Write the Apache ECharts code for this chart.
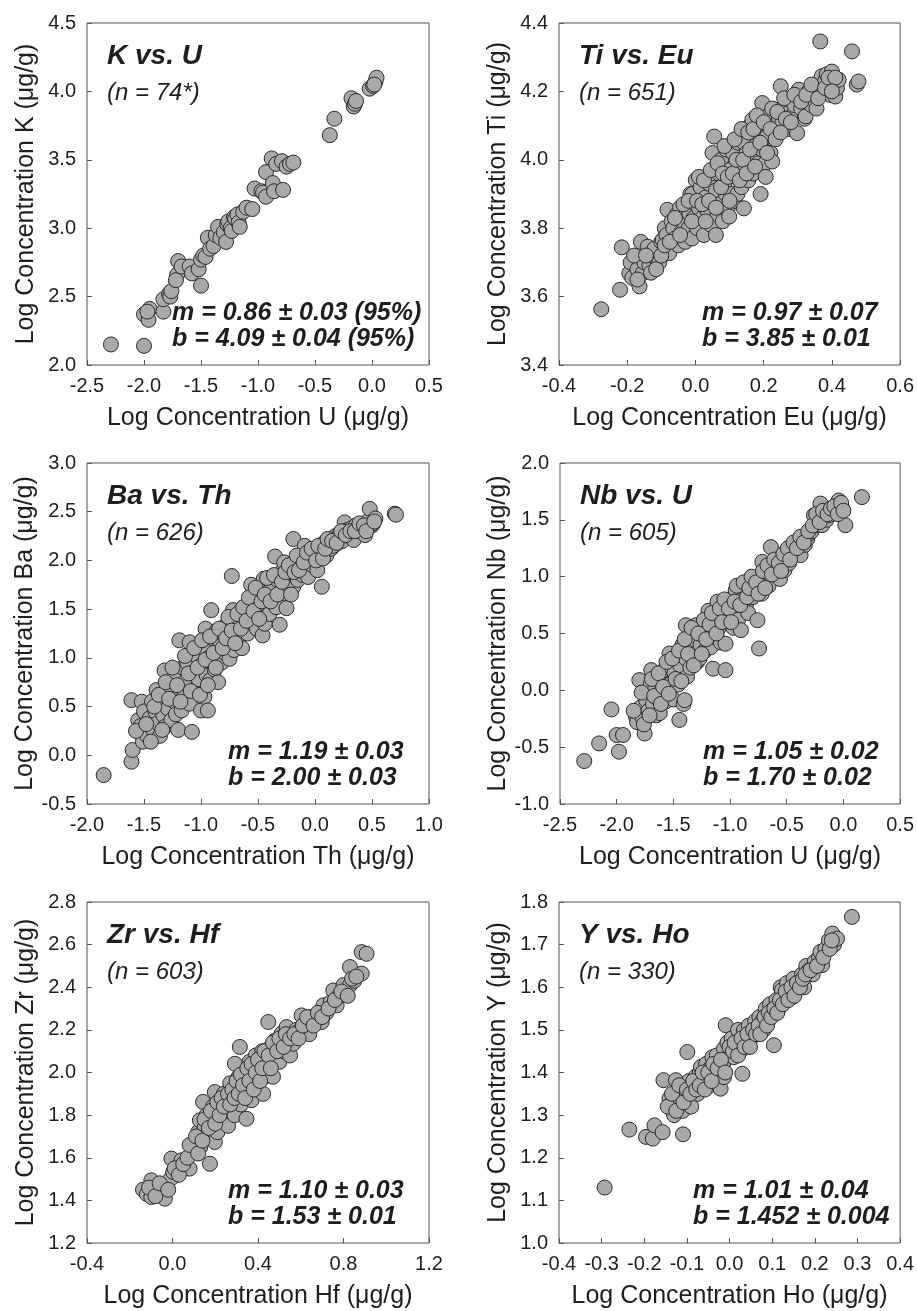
<!DOCTYPE html>
<html><head><meta charset="utf-8">
<script src="https://cdn.jsdelivr.net/npm/echarts@6/dist/echarts.min.js"></script>
<style>html,body{margin:0;padding:0;background:#fff}#c{width:917px;height:1311px}</style>
</head><body><div id="c"></div>
<script>
// ---------- DATA ----------
const kVsU = [[-2.29,2.15],[-2.00,2.14],[-2.00,2.37],[-1.96,2.33],[-1.95,2.41],[-1.97,2.39],[-1.83,2.39],[-1.83,2.48],[-1.78,2.52],[-1.77,2.50],[-1.76,2.54],[-1.70,2.76],[-1.71,2.66],[-1.72,2.62],[-1.67,2.72],[-1.60,2.72],[-1.58,2.67],[-1.52,2.70],[-1.50,2.58],[-1.50,2.77],[-1.48,2.80],[-1.46,2.79],[-1.44,2.93],[-1.42,2.85],[-1.39,2.87],[-1.37,2.95],[-1.35,3.01],[-1.33,2.93],[-1.30,2.97],[-1.28,2.90],[-1.27,3.03],[-1.26,3.05],[-1.24,3.00],[-1.23,2.98],[-1.21,3.08],[-1.20,3.07],[-1.18,3.10],[-1.17,3.04],[-1.16,3.01],[-1.13,3.12],[-1.10,3.15],[-1.05,3.14],[-1.03,3.29],[-0.97,3.27],[-0.955,3.26],[-0.93,3.23],[-0.93,3.41],[-0.88,3.51],[-0.87,3.33],[-0.86,3.27],[-0.84,3.47],[-0.79,3.49],[-0.78,3.28],[-0.75,3.45],[-0.72,3.47],[-0.69,3.48],[-0.37,3.68],[-0.33,3.80],[-0.18,3.95],[-0.16,3.89],[-0.15,3.91],[-0.14,3.93],[-0.02,4.02],[0.01,4.04],[0.03,4.07],[0.04,4.10],[0.02,4.05]];

const tiVsEu = [[-0.276,3.563],[-0.221,3.62],[-0.216,3.744],[-0.194,3.668],[-0.19,3.70],[-0.185,3.655],[-0.17,3.68],[-0.164,3.63],[-0.16,3.76],[-0.155,3.668],[-0.15,3.70],[-0.14,3.746],[-0.135,3.69],[-0.13,3.67],[-0.125,3.72],[-0.12,3.74],[-0.11,3.70],[-0.106,3.70],[-0.10,3.76],[-0.096,3.766],[-0.09,3.80],[-0.085,3.78],[-0.082,3.854],[-0.08,3.74],[-0.077,3.727],[-0.07,3.82],[-0.065,3.80],[-0.06,3.77],[-0.055,3.84],[-0.05,3.75],[-0.048,3.834],[-0.045,3.86],[-0.04,3.79],[-0.035,3.82],[-0.03,3.76],[-0.025,3.85],[-0.02,3.80],[-0.018,3.844],[-0.015,3.90],[-0.01,3.77],[-0.009,3.90],[-0.005,3.83],[0.0,3.87],[0.001,3.941],[0.005,3.80],[0.01,3.86],[0.015,3.92],[0.02,3.83],[0.025,3.78],[0.03,3.89],[0.035,3.85],[0.04,3.93],[0.045,3.81],[0.05,4.02],[0.05,3.88],[0.055,4.068],[0.055,3.96],[0.06,3.78],[0.06,3.91],[0.065,3.84],[0.069,3.96],[0.07,3.87],[0.075,4.00],[0.08,3.82],[0.085,3.93],[0.089,3.90],[0.09,4.03],[0.095,3.86],[0.099,3.834],[0.10,3.97],[0.105,3.90],[0.11,4.02],[0.115,3.88],[0.12,3.95],[0.123,3.90],[0.125,4.05],[0.13,3.99],[0.135,3.92],[0.14,4.07],[0.142,3.858],[0.142,4.05],[0.145,3.98],[0.15,4.02],[0.155,3.94],[0.16,4.10],[0.165,4.00],[0.167,4.117],[0.17,3.96],[0.175,4.04],[0.18,4.08],[0.185,3.99],[0.19,4.12],[0.191,3.90],[0.195,4.03],[0.196,4.166],[0.20,4.06],[0.205,3.99],[0.206,3.95],[0.21,4.068],[0.215,4.13],[0.22,4.02],[0.225,3.995],[0.23,4.10],[0.235,4.146],[0.24,4.08],[0.245,4.12],[0.25,4.215],[0.255,4.11],[0.26,4.15],[0.27,4.09],[0.274,4.137],[0.28,4.18],[0.285,4.13],[0.29,4.16],[0.298,4.078],[0.30,4.20],[0.303,4.205],[0.31,4.15],[0.315,4.18],[0.32,4.12],[0.323,4.127],[0.33,4.19],[0.332,4.20],[0.34,4.16],[0.347,4.176],[0.35,4.21],[0.355,4.15],[0.36,4.22],[0.366,4.346],[0.37,4.244],[0.375,4.20],[0.38,4.23],[0.385,4.25],[0.39,4.21],[0.395,4.19],[0.40,4.258],[0.405,4.22],[0.41,4.185],[0.415,4.21],[0.42,4.234],[0.459,4.317],[0.473,4.22],[0.478,4.229],
[-0.18,3.72],[-0.17,3.65],[-0.145,3.72],[-0.115,3.68],[-0.1,3.72],[-0.09,3.75],[-0.075,3.76],[-0.06,3.83],[-0.045,3.78],[-0.035,3.87],[-0.02,3.88],[-0.01,3.82],[0.005,3.88],[0.01,3.95],[0.02,3.87],[0.025,3.94],[0.03,3.82],[0.04,3.88],[0.045,3.97],[0.06,3.86],[0.065,3.99],[0.075,3.92],[0.08,3.96],[0.085,4.04],[0.095,3.95],[0.1,3.88],[0.11,3.96],[0.115,4.06],[0.12,4.0],[0.13,3.94],[0.135,4.09],[0.14,4.0],[0.15,3.96],[0.155,4.08],[0.16,4.03],[0.17,4.09],[0.175,3.98],[0.18,4.13],[0.19,4.05],[0.2,4.11],[0.21,4.02],[0.22,4.09],[0.225,4.15],[0.235,4.06],[0.24,4.14],[0.25,4.08],[0.26,4.18],[0.265,4.12],[0.28,4.11],[0.29,4.19],[0.31,4.17],[0.325,4.19],[0.34,4.22],[0.36,4.18],[0.38,4.21],[0.39,4.24],[0.41,4.24],[0.4,4.2]];

const baVsTh = [[-1.854,-0.203],[-1.61,-0.066],[-1.60,0.054],[-1.61,0.566],[-1.52,0.55],[-1.55,0.36],[-1.51,0.14],[-1.53,0.30],[-1.50,0.45],[-1.47,0.20],[-1.45,0.38],[-1.43,0.55],[-1.42,0.26],[-1.40,0.45],[-1.39,0.67],[-1.38,0.33],[-1.36,0.20],[-1.35,0.52],[-1.33,0.41],[-1.32,0.29],[-1.32,0.87],[-1.30,0.62],[-1.29,0.48],[-1.27,0.70],[-1.26,0.36],[-1.24,0.80],[-1.23,0.55],[-1.22,0.42],[-1.20,0.26],[-1.19,1.18],[-1.19,0.68],[-1.17,0.46],[-1.16,0.90],[-1.15,0.60],[-1.13,0.77],[-1.12,0.95],[-1.10,1.16],[-1.10,0.53],[-1.08,0.24],[-1.07,0.85],[-1.05,0.68],[-1.04,1.02],[-1.02,0.78],[-1.00,0.46],[-1.00,0.92],[-0.98,1.10],[-0.97,0.60],[-0.96,1.30],[-0.95,0.82],[-0.94,0.46],[-0.93,1.00],[-0.92,0.77],[-0.91,1.49],[-0.91,0.96],[-0.90,1.20],[-0.88,0.88],[-0.87,1.06],[-0.86,1.28],[-0.85,0.75],[-0.83,1.12],[-0.82,0.95],[-0.80,1.25],[-0.79,1.05],[-0.77,1.35],[-0.75,0.99],[-0.74,1.18],[-0.73,1.84],[-0.72,1.49],[-0.71,1.08],[-0.69,1.30],[-0.67,1.22],[-0.66,1.40],[-0.64,1.10],[-0.62,1.35],[-0.61,1.50],[-0.59,1.25],[-0.57,1.49],[-0.56,1.75],[-0.55,1.40],[-0.53,1.60],[-0.51,1.30],[-0.50,1.52],[-0.48,1.68],[-0.46,1.23],[-0.45,1.81],[-0.44,1.35],[-0.43,1.55],[-0.41,1.70],[-0.40,1.45],[-0.38,1.73],[-0.37,1.60],[-0.35,2.04],[-0.34,1.52],[-0.33,1.80],[-0.31,1.34],[-0.30,1.68],[-0.28,1.90],[-0.27,1.66],[-0.27,1.98],[-0.25,1.51],[-0.24,1.80],[-0.22,1.72],[-0.20,1.88],[-0.19,2.22],[-0.19,1.73],[-0.17,1.95],[-0.15,1.80],[-0.13,2.00],[-0.11,1.85],[-0.09,2.15],[-0.08,1.95],[-0.06,1.83],[-0.04,2.05],[-0.02,1.95],[0.00,2.10],[0.02,1.90],[0.04,2.02],[0.06,1.73],[0.06,2.10],[0.08,2.18],[0.10,2.05],[0.12,2.20],[0.14,2.12],[0.16,2.15],[0.18,2.25],[0.20,2.18],[0.22,2.28],[0.24,2.20],[0.26,2.39],[0.28,2.31],[0.30,2.25],[0.32,2.33],[0.34,2.21],[0.36,2.36],[0.38,2.30],[0.40,2.35],[0.42,2.32],[0.44,2.26],[0.46,2.40],[0.48,2.53],[0.50,2.36],[0.51,2.38],[0.53,2.43],[0.70,2.48],[0.71,2.47],
[-1.57,0.25],[-1.48,0.32],[-1.44,0.14],[-1.41,0.50],[-1.37,0.62],[-1.34,0.26],[-1.31,0.75],[-1.28,0.58],[-1.25,0.90],[-1.21,0.72],[-1.18,0.55],[-1.14,1.02],[-1.11,0.84],[-1.09,0.66],[-1.06,1.10],[-1.03,0.90],[-1.01,0.62],[-0.99,1.18],[-0.96,0.98],[-0.94,0.72],[-0.92,1.22],[-0.89,1.05],[-0.87,0.90],[-0.84,1.30],[-0.81,1.10],[-0.78,1.20],[-0.76,1.42],[-0.73,1.28],[-0.70,1.15],[-0.68,1.45],[-0.65,1.30],[-0.63,1.52],[-0.60,1.38],[-0.58,1.62],[-0.54,1.48],[-0.52,1.72],[-0.49,1.40],[-0.47,1.58],[-0.44,1.65],[-0.42,1.82],[-0.39,1.58],[-0.36,1.85],[-0.33,1.65],[-0.29,1.78],[-0.26,1.88],[-0.23,1.95],[-0.21,1.65],[-0.18,1.88],[-0.16,2.05],[-0.14,1.90],[-0.10,1.98],[-0.07,2.08],[-0.03,2.12],[0.01,2.00],[0.03,2.15],[0.07,2.02],[0.09,2.12],[0.11,2.22],[0.15,2.20],[0.19,2.18],[0.23,2.30],[0.27,2.26],[0.31,2.30],[0.35,2.30],[0.39,2.38],[0.43,2.36],[0.45,2.30],[0.52,2.40]];

const nbVsU = [[-2.286,-0.622],[-2.155,-0.467],[-2.046,-0.168],[-2.0,-0.393],[-1.98,-0.54],[-1.944,-0.393],[-1.83,-0.23],[-1.82,-0.28],[-1.80,0.09],[-1.79,-0.15],[-1.77,-0.247],[-1.754,-0.38],[-1.75,-0.05],[-1.74,-0.086],[-1.72,-0.18],[-1.70,0.05],[-1.695,0.178],[-1.68,-0.12],[-1.66,0.02],[-1.65,-0.22],[-1.64,0.12],[-1.62,-0.2],[-1.62,-0.027],[-1.60,0.08],[-1.58,0.18],[-1.57,-0.10],[-1.55,0.05],[-1.534,0.324],[-1.52,0.06],[-1.52,0.20],[-1.50,-0.08],[-1.49,0.15],[-1.47,0.30],[-1.46,0.05],[-1.447,-0.26],[-1.44,0.22],[-1.42,0.40],[-1.41,-0.12],[-1.40,-0.086],[-1.39,0.28],[-1.39,0.573],[-1.38,0.12],[-1.36,0.45],[-1.35,0.20],[-1.33,0.35],[-1.31,0.50],[-1.30,0.573],[-1.30,0.44],[-1.29,0.25],[-1.27,0.28],[-1.26,0.40],[-1.24,0.55],[-1.22,0.35],[-1.20,0.48],[-1.19,0.70],[-1.17,0.38],[-1.15,0.19],[-1.14,0.47],[-1.13,0.62],[-1.11,0.78],[-1.10,0.55],[-1.08,0.42],[-1.06,0.68],[-1.04,0.178],[-1.04,0.41],[-1.02,0.617],[-1.00,0.80],[-0.98,0.705],[-0.97,0.55],[-0.95,0.88],[-0.93,0.62],[-0.905,0.53],[-0.89,0.80],[-0.87,0.92],[-0.86,0.75],[-0.86,0.88],[-0.84,0.68],[-0.82,0.98],[-0.80,0.82],[-0.78,0.90],[-0.758,0.617],[-0.744,0.368],[-0.73,0.983],[-0.72,0.85],[-0.715,1.13],[-0.70,0.95],[-0.68,1.02],[-0.66,0.92],[-0.64,1.26],[-0.62,1.05],[-0.60,1.10],[-0.58,1.086],[-0.56,0.98],[-0.54,1.15],[-0.52,1.057],[-0.50,1.18],[-0.48,1.12],[-0.46,1.25],[-0.437,1.29],[-0.42,1.20],[-0.40,1.30],[-0.378,1.19],[-0.36,1.32],[-0.34,1.28],[-0.32,1.33],[-0.30,1.38],[-0.28,1.40],[-0.26,1.54],[-0.25,1.45],[-0.22,1.50],[-0.203,1.643],[-0.188,1.453],[-0.17,1.55],[-0.15,1.50],[-0.13,1.54],[-0.10,1.58],[-0.07,1.57],[-0.042,1.67],[-0.03,1.613],[-0.01,1.60],[0.017,1.453],[0.163,1.70],
[-1.85,-0.18],[-1.78,-0.02],[-1.76,-0.30],[-1.71,-0.22],[-1.69,0.10],[-1.67,-0.05],[-1.63,0.15],[-1.61,-0.12],[-1.59,0.03],[-1.56,0.25],[-1.54,-0.03],[-1.51,0.28],[-1.48,0.10],[-1.45,0.35],[-1.43,0.08],[-1.40,0.45],[-1.37,0.32],[-1.34,0.55],[-1.32,0.22],[-1.28,0.50],[-1.25,0.32],[-1.23,0.62],[-1.21,0.45],[-1.18,0.58],[-1.16,0.68],[-1.12,0.50],[-1.09,0.72],[-1.07,0.60],[-1.05,0.80],[-1.01,0.72],[-0.99,0.60],[-0.96,0.78],[-0.94,0.92],[-0.91,0.75],[-0.88,0.95],[-0.85,0.82],[-0.83,0.90],[-0.81,1.00],[-0.77,0.95],[-0.75,0.85],[-0.71,1.05],[-0.69,0.90],[-0.67,1.10],[-0.63,1.02],[-0.61,1.15],[-0.57,1.12],[-0.55,1.05],[-0.53,1.20],[-0.49,1.25],[-0.47,1.15],[-0.44,1.30],[-0.41,1.25],[-0.38,1.35],[-0.35,1.30],[-0.31,1.40],[-0.27,1.45],[-0.24,1.55],[-0.21,1.48],[-0.18,1.58],[-0.14,1.55],[-0.11,1.60],[-0.08,1.62],[-0.05,1.55],[-0.02,1.65],[0.00,1.58]];

const zrVsHf = [[-0.138,1.45],[-0.12,1.43],[-0.099,1.494],[-0.099,1.416],[-0.07,1.46],[-0.05,1.44],[-0.036,1.408],[-0.028,1.463],[-0.01,1.50],[-0.005,1.596],[0.003,1.533],[0.02,1.55],[0.042,1.588],[0.06,1.56],[0.08,1.549],[0.09,1.63],[0.10,1.67],[0.112,1.635],[0.12,1.72],[0.128,1.776],[0.13,1.65],[0.143,1.862],[0.15,1.74],[0.16,1.80],[0.167,1.713],[0.175,1.572],[0.18,1.76],[0.19,1.84],[0.198,1.674],[0.198,1.908],[0.206,1.791],[0.21,1.72],[0.22,1.86],[0.23,1.78],[0.24,1.90],[0.25,1.82],[0.253,1.885],[0.26,1.75],[0.27,1.95],[0.28,1.87],[0.29,1.80],[0.292,2.041],[0.30,1.92],[0.31,1.98],[0.315,2.12],[0.315,1.963],[0.32,1.85],[0.33,1.90],[0.34,2.00],[0.346,1.783],[0.35,1.93],[0.36,2.05],[0.37,1.87],[0.38,1.97],[0.39,2.08],[0.393,1.994],[0.40,1.92],[0.41,2.03],[0.42,2.10],[0.424,1.9],[0.43,1.98],[0.44,2.06],[0.448,2.237],[0.455,2.025],[0.46,2.12],[0.47,1.98],[0.48,2.15],[0.487,2.088],[0.50,2.05],[0.51,2.182],[0.52,2.10],[0.534,2.213],[0.54,2.15],[0.55,2.08],[0.565,2.135],[0.58,2.20],[0.596,2.198],[0.604,2.268],[0.62,2.22],[0.64,2.18],[0.651,2.26],[0.67,2.24],[0.698,2.237],[0.706,2.315],[0.72,2.28],[0.74,2.33],[0.752,2.385],[0.768,2.315],[0.78,2.36],[0.8,2.41],[0.81,2.38],[0.83,2.495],[0.83,2.41],[0.85,2.43],[0.885,2.464],[0.885,2.565],[0.908,2.557],
[-0.11,1.46],[-0.08,1.42],[-0.06,1.48],[-0.02,1.45],[0.01,1.55],[0.03,1.52],[0.05,1.57],[0.07,1.60],[0.08,1.66],[0.11,1.70],[0.12,1.62],[0.14,1.68],[0.15,1.78],[0.17,1.74],[0.18,1.82],[0.2,1.76],[0.21,1.86],[0.22,1.80],[0.23,1.88],[0.24,1.84],[0.26,1.90],[0.27,1.85],[0.28,1.92],[0.29,1.88],[0.3,1.96],[0.31,1.90],[0.32,1.99],[0.33,1.94],[0.34,1.88],[0.35,2.02],[0.36,1.96],[0.37,2.04],[0.38,1.92],[0.39,2.00],[0.40,2.06],[0.41,1.96],[0.42,2.02],[0.43,2.10],[0.45,2.08],[0.46,2.02],[0.47,2.14],[0.49,2.10],[0.5,2.16],[0.52,2.12],[0.53,2.18],[0.55,2.16],[0.57,2.18],[0.59,2.16],[0.61,2.22],[0.63,2.26],[0.66,2.22],[0.68,2.28],[0.7,2.26],[0.73,2.30],[0.76,2.34],[0.79,2.38],[0.82,2.36],[0.84,2.44],[0.86,2.45]];

const yVsHo = [[-0.293,1.13],[-0.235,1.266],[-0.196,1.249],[-0.18,1.245],[-0.176,1.276],[-0.157,1.26],[-0.109,1.255],[-0.155,1.382],[-0.141,1.339],[-0.134,1.319],[-0.13,1.30],[-0.126,1.382],[-0.12,1.33],[-0.115,1.36],[-0.11,1.31],[-0.105,1.35],[-0.102,1.331],[-0.099,1.448],[-0.095,1.38],[-0.09,1.32],[-0.087,1.366],[-0.08,1.39],[-0.075,1.35],[-0.07,1.40],[-0.067,1.413],[-0.06,1.38],[-0.055,1.42],[-0.052,1.366],[-0.045,1.41],[-0.04,1.436],[-0.035,1.39],[-0.03,1.44],[-0.021,1.362],[-0.015,1.42],[-0.013,1.389],[-0.013,1.456],[-0.009,1.511],[-0.005,1.47],[0.0,1.44],[0.005,1.48],[0.01,1.436],[0.015,1.46],[0.02,1.50],[0.025,1.45],[0.03,1.397],[0.034,1.499],[0.04,1.47],[0.045,1.51],[0.05,1.48],[0.053,1.487],[0.06,1.52],[0.065,1.49],[0.07,1.53],[0.077,1.522],[0.08,1.50],[0.085,1.55],[0.09,1.52],[0.095,1.56],[0.1,1.546],[0.104,1.464],[0.11,1.57],[0.115,1.55],[0.12,1.60],[0.123,1.593],[0.13,1.57],[0.135,1.61],[0.14,1.59],[0.147,1.577],[0.15,1.62],[0.155,1.60],[0.162,1.612],[0.17,1.63],[0.175,1.60],[0.18,1.65],[0.186,1.64],[0.195,1.63],[0.2,1.66],[0.21,1.67],[0.213,1.683],[0.217,1.652],[0.225,1.69],[0.233,1.71],[0.241,1.726],[0.245,1.70],[0.252,1.714],[0.287,1.765],
[-0.145,1.32],[-0.135,1.35],[-0.125,1.31],[-0.118,1.37],[-0.108,1.33],[-0.1,1.36],[-0.092,1.35],[-0.085,1.38],[-0.078,1.36],[-0.07,1.37],[-0.063,1.40],[-0.058,1.36],[-0.05,1.40],[-0.042,1.38],[-0.038,1.42],[-0.028,1.41],[-0.02,1.43],[-0.01,1.40],[0.0,1.46],[0.008,1.45],[0.012,1.47],[0.02,1.44],[0.028,1.48],[0.035,1.46],[0.042,1.49],[0.048,1.46],[0.055,1.50],[0.062,1.49],[0.068,1.51],[0.072,1.49],[0.082,1.53],[0.088,1.51],[0.092,1.54],[0.098,1.53],[0.105,1.55],[0.112,1.54],[0.118,1.57],[0.125,1.56],[0.132,1.59],[0.138,1.57],[0.145,1.60],[0.152,1.58],[0.158,1.61],[0.165,1.60],[0.172,1.62],[0.178,1.63],[0.19,1.64],[0.205,1.65],[0.22,1.67],[0.235,1.69],[0.24,1.71]];

// tick values
const kuXTicks = [-2.5,-2.0,-1.5,-1.0,-0.5,0.0,0.5];
const kuYTicks = [2.0,2.5,3.0,3.5,4.0,4.5];
const teXTicks = [-0.4,-0.2,0.0,0.2,0.4,0.6];
const teYTicks = [3.4,3.6,3.8,4.0,4.2,4.4];
const btXTicks = [-2.0,-1.5,-1.0,-0.5,0.0,0.5,1.0];
const btYTicks = [-0.5,0.0,0.5,1.0,1.5,2.0,2.5,3.0];
const nuXTicks = [-2.5,-2.0,-1.5,-1.0,-0.5,0.0,0.5];
const nuYTicks = [-1.0,-0.5,0.0,0.5,1.0,1.5,2.0];
const zhXTicks = [-0.4,0.0,0.4,0.8,1.2];
const zhYTicks = [1.2,1.4,1.6,1.8,2.0,2.2,2.4,2.6,2.8];
const yhXTicks = [-0.4,-0.3,-0.2,-0.1,0.0,0.1,0.2,0.3,0.4];
const yhYTicks = [1.0,1.1,1.2,1.3,1.4,1.5,1.6,1.7,1.8];

// texts
const panelTitles = ['K vs. U','Ti vs. Eu','Ba vs. Th','Nb vs. U','Zr vs. Hf','Y vs. Ho'];
const panelN = ['(n = 74*)','(n = 651)','(n = 626)','(n = 605)','(n = 603)','(n = 330)'];
const slopeText = ['m = 0.86 ± 0.03 (95%)','m = 0.97 ± 0.07','m = 1.19 ± 0.03','m = 1.05 ± 0.02','m = 1.10 ± 0.03','m = 1.01 ± 0.04'];
const interceptText = ['b = 4.09 ± 0.04 (95%)','b = 3.85 ± 0.01','b = 2.00 ± 0.03','b = 1.70 ± 0.02','b = 1.53 ± 0.01','b = 1.452 ± 0.004'];
const xNames = ['Log Concentration U (μg/g)','Log Concentration Eu (μg/g)','Log Concentration Th (μg/g)','Log Concentration U (μg/g)','Log Concentration Hf (μg/g)','Log Concentration Ho (μg/g)'];
const yNames = ['Log Concentration K (μg/g)','Log Concentration Ti (μg/g)','Log Concentration Ba (μg/g)','Log Concentration Nb (μg/g)','Log Concentration Zr (μg/g)','Log Concentration Y (μg/g)'];

const seriesData = [kVsU, tiVsEu, baVsTh, nbVsU, zrVsHf, yVsHo];
const xTicks = [kuXTicks, teXTicks, btXTicks, nuXTicks, zhXTicks, yhXTicks];
const yTicks = [kuYTicks, teYTicks, btYTicks, nuYTicks, zhYTicks, yhYTicks];

// ---------- LAYOUT ----------
const layout = [
  {left:87, top:23, w:342, h:342, statX:85},
  {left:559, top:23, w:342, h:342, statX:143},
  {left:87, top:463, w:342, h:341, statX:141},
  {left:560, top:463, w:342, h:341, statX:143},
  {left:87, top:902, w:342, h:341, statX:141},
  {left:559, top:902, w:342, h:341, statX:134}
];

const FONT = '"Liberation Sans", Arial, Helvetica, sans-serif';
const TXT = '#1e1e1e';
const AX = '#555';
const fmt = v => (Math.abs(v) < 1e-9 ? 0 : v).toFixed(1);

const grid = [], xAxis = [], yAxis = [], series = [], graphic = [];
layout.forEach((L, i) => {
  grid.push({left:L.left, top:L.top, width:L.w, height:L.h, show:true, borderColor:AX, borderWidth:1, backgroundColor:'#fff'});
  const xt = xTicks[i], yt = yTicks[i];
  const axisCommon = {
    type:'value', splitLine:{show:false},
    axisLine:{show:false, onZero:false},
    axisTick:{show:true, inside:true, length:5, lineStyle:{color:AX, width:1}},
    nameTextStyle:{fontFamily:FONT, fontSize:25, color:TXT},
    nameLocation:'middle'
  };
  xAxis.push(Object.assign({}, axisCommon, {
    gridIndex:i, min:xt[0], max:xt[xt.length-1], interval:+(xt[1]-xt[0]).toFixed(6),
    name:xNames[i], nameGap:41,
    axisLabel:{fontFamily:FONT, fontSize:20, color:TXT, margin:11, formatter:fmt}
  }));
  yAxis.push(Object.assign({}, axisCommon, {
    gridIndex:i, min:yt[0], max:yt[yt.length-1], interval:+(yt[1]-yt[0]).toFixed(6),
    name:yNames[i], nameGap:48,
    axisLabel:{fontFamily:FONT, fontSize:20, color:TXT, margin:11, formatter:fmt}
  }));
  series.push({
    type:'scatter', xAxisIndex:i, yAxisIndex:i, data:seriesData[i],
    symbol:'circle', symbolSize:15, silent:true, animation:false,
    itemStyle:{color:'#a9a9a9', borderColor:'#2b2b2b', borderWidth:1, opacity:1}
  });
  const tx = L.left + 20;
  graphic.push({type:'text', left:tx, top:L.top + 19.6, style:{text:panelTitles[i], fontFamily:FONT, fontSize:28, fontWeight:'bold', fontStyle:'italic', fill:TXT}});
  graphic.push({type:'text', left:tx, top:L.top + 58, style:{text:panelN[i], fontFamily:FONT, fontSize:24, fontStyle:'italic', fill:TXT}});
  graphic.push({type:'text', left:L.left + L.statX, top:L.top + L.h - 64.5, z:100, style:{text:slopeText[i], fontFamily:FONT, fontSize:25, fontWeight:'bold', fontStyle:'italic', fill:TXT}});
  graphic.push({type:'text', left:L.left + L.statX, top:L.top + L.h - 38, z:100, style:{text:interceptText[i], fontFamily:FONT, fontSize:25, fontWeight:'bold', fontStyle:'italic', fill:TXT}});
});

const chart = echarts.init(document.getElementById('c'), null, {renderer:'canvas'});
chart.setOption({backgroundColor:'#fff', animation:false, grid, xAxis, yAxis, series, graphic});
</script>
</body></html>
